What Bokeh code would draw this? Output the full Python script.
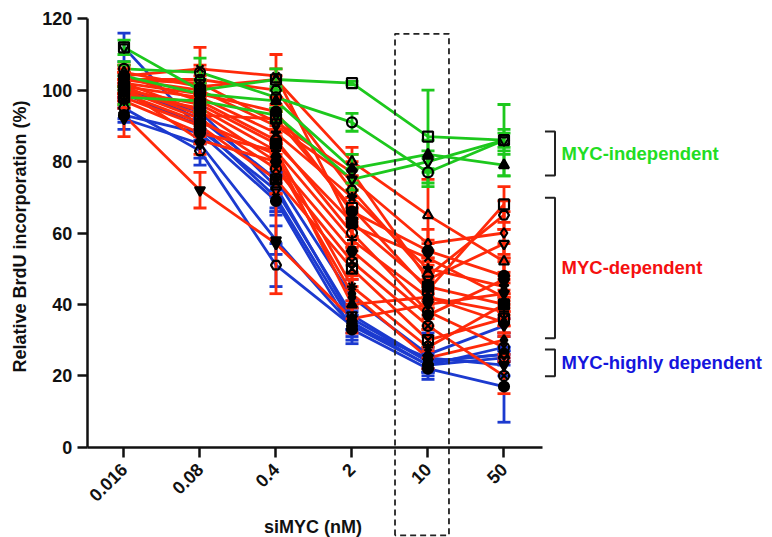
from math import pi
from bokeh.plotting import figure
from bokeh.models import Range1d, LinearAxis, FixedTicker, ColumnDataSource
from bokeh.core.properties import value
from bokeh.embed import file_html
from bokeh.resources import INLINE

# ---------------- data ----------------
doses = ["0.016", "0.08", "0.4", "2", "10", "50"]
y_ticks = [0, 20, 40, 60, 80, 100, 120]

green_means = [
    [112, 100, 103, 102, 87, 86],
    [106, 105, 98, 91, 77, 86],
    [104, 99, 97, 78, 82, 79],
    [98, 97, 93, 75, 80, 86],
]
green_sds = [
    [2, 3, 3, 0.5, 13, 10],
    [2, 4, 3, 2.5, 4, 3],
    [3, 3, 3, 4, 4, 3],
    [2, 3, 2, 3, 3, 2],
]

red_means = [
    [104, 106, 104, 62, 53, 42],
    [103, 103, 100, 72, 48, 65],
    [102, 99, 94, 66, 55, 48],
    [93, 72, 57, 36, 40, 43],
    [105, 101, 103, 80, 65, 52],
    [103, 100, 90, 75, 57, 60],
    [101, 98, 88, 70, 50, 45],
    [100, 96, 85, 63, 45, 40],
    [99, 95, 83, 58, 42, 38],
    [102, 94, 80, 55, 37, 47],
    [100, 92, 78, 52, 34, 20],
    [98, 90, 75, 50, 30, 36],
    [97, 88, 83, 45, 28, 40],
    [101, 93, 92, 67, 44, 68],
    [104, 97, 86, 60, 38, 28],
    [99, 91, 82, 40, 42, 35],
    [103, 102, 91, 77, 47, 57],
    [100, 86, 80, 43, 25, 30],
]
red_sds = [
    [3, 6, 6, 5, 4, 4],
    [2, 4, 4, 6, 5, 4],
    [3, 3, 4, 4, 3, 5],
    [6, 5, 14, 4, 4, 5],
    [2, 3, 3, 4, 10, 5],
    [3, 3, 4, 5, 4, 6],
    [2, 4, 3, 6, 5, 4],
    [3, 3, 4, 4, 4, 3],
    [2, 4, 3, 5, 3, 4],
    [3, 3, 5, 4, 4, 5],
    [2, 4, 4, 4, 5, 5],
    [3, 3, 4, 5, 3, 4],
    [2, 3, 4, 4, 3, 4],
    [3, 4, 3, 5, 4, 5],
    [2, 3, 5, 4, 4, 4],
    [3, 3, 4, 4, 5, 4],
    [2, 4, 3, 5, 4, 4],
    [3, 4, 5, 4, 3, 4],
]

blue_means = [
    [112, 89, 72, 37, 24, 26],
    [101, 92, 75, 42, 26, 34],
    [99, 90, 70, 35, 23, 28],
    [95, 83, 51, 34, 23, 25],
    [93, 88, 69, 33, 22, 17],
    [92, 85, 58, 34, 25, 23],
    [100, 94, 73, 36, 24, 26],
]
blue_sds = [
    [4, 3, 5, 4, 2, 2],
    [3, 3, 10, 5, 6, 2],
    [2, 2, 4, 3, 2, 3],
    [3, 4, 6, 3, 2, 2],
    [2, 3, 3, 3, 3, 10],
    [3, 4, 4, 5, 3, 3],
    [2, 3, 3, 3, 3, 2],
]

group_labels = ["MYC-independent", "MYC-dependent", "MYC-highly dependent"]
group_spans = [(88.4, 76.1), (69.9, 30.5), (27.4, 19.9)]
highlight_dose = "10"

# ---------------- style ----------------
FONT = "Liberation Sans"
GREEN, RED, BLUE = "#1DC81D", "#FF2A0A", "#1C3ACF"
TXT_COLORS = ["#22DD22", "#F51010", "#1515DD"]
MARKERS = [("square", False), ("circle", False), ("triangle", True),
           ("inverted_triangle", False), ("diamond", True), ("x", False),
           ("hex", False), ("circle", True), ("inverted_triangle", True),
           ("triangle", False), ("diamond", False), ("star", True),
           ("square", True), ("cross", False), ("hex", True),
           ("circle_x", False), ("square_x", False), ("asterisk", False)]

X0, X1 = -0.484, 5.507

p = figure(width=772, height=537, output_backend="svg", toolbar_location=None,
           x_range=Range1d(-1.625, 8.533), y_range=Range1d(-25.29, 125.126),
           x_axis_type=None, y_axis_type=None, min_border=0)
p.outline_line_color = None
p.background_fill_color = "white"
p.border_fill_color = "white"

xpos = list(range(len(doses)))

xaxis = LinearAxis(fixed_location=0, bounds=(X0, X1),
                   ticker=FixedTicker(ticks=xpos),
                   major_label_overrides={i: d for i, d in enumerate(doses)},
                   major_label_orientation=pi / 4)
yaxis = LinearAxis(fixed_location=X0, bounds=(0, 120),
                   ticker=FixedTicker(ticks=y_ticks))
for ax in (xaxis, yaxis):
    ax.axis_line_width = 2.5
    ax.axis_line_color = "#111111"
    ax.major_tick_line_width = 2.5
    ax.major_tick_line_color = "#111111"
    ax.major_tick_out = 10
    ax.major_tick_in = 0
    ax.minor_tick_out = 0
    ax.minor_tick_in = 0
    ax.major_label_text_font = FONT
    ax.major_label_text_font_style = "bold"
    ax.major_label_text_font_size = "18px"
    ax.major_label_text_color = "#111111"
xaxis.major_label_standoff = 9
yaxis.major_label_standoff = 5
p.add_layout(xaxis, "below")
p.add_layout(yaxis, "left")

def draw_lines(means, color):
    for m in means:
        p.line(xpos, m, line_color=color, line_width=2.8)

def draw_errors(means, sds, color):
    for m, s in zip(means, sds):
        lo = [a - b for a, b in zip(m, s)]
        hi = [a + b for a, b in zip(m, s)]
        src = ColumnDataSource(dict(x=xpos, lo=lo, hi=hi))
        p.segment(x0="x", y0="lo", x1="x", y1="hi", source=src,
                  line_color=color, line_width=2.8)
        p.scatter("x", "lo", source=src, marker="dash", size=13,
                  line_color=color, line_width=2.8)
        p.scatter("x", "hi", source=src, marker="dash", size=13,
                  line_color=color, line_width=2.8)

def draw_markers(means, offset):
    for k, m in enumerate(means):
        mk, filled = MARKERS[(k + offset) % len(MARKERS)]
        p.scatter(xpos, m, marker=mk, size=10, line_color="#000000",
                  line_width=2.2, fill_color="#000000" if filled else None)

groups = [(blue_means, blue_sds, BLUE, 3), (red_means, red_sds, RED, 5),
          (green_means, green_sds, GREEN, 0)]
for means, sds, color, off in groups:
    draw_lines(means, color)
for means, sds, color, off in groups:
    draw_errors(means, sds, color)
for means, sds, color, off in groups:
    draw_markers(means, off)

# dashed highlight box around the 10 nM column
hx = doses.index(highlight_dose)
p.line([hx - 0.434, hx - 0.434, hx + 0.276, hx + 0.276, hx - 0.434],
       [-24.7, 115.8, 115.8, -24.7, -24.7],
       line_color="#222222", line_width=1.8, line_dash="6 4")

# group brackets and labels
bx_in, bx_out = 5.539, 5.671
for top, bot in group_spans:
    p.line([bx_in, bx_out, bx_out, bx_in], [top, top, bot, bot],
           line_color="#222222", line_width=2)
lab_src = ColumnDataSource(dict(
    x=[5.757] * 3, y=[(a + b) / 2 for a, b in group_spans],
    text=group_labels, color=TXT_COLORS))
p.text(x="x", y="y", text="text", source=lab_src, text_color="color",
       text_font=value(FONT), text_font_style="bold", text_font_size="18.5px",
       text_baseline="middle", text_align="left")

# axis titles
p.text(x=[2.487], y=[-22.3], text=["siMYC (nM)"], text_font=value(FONT),
       text_font_style="bold", text_font_size="18px", text_color="#111111",
       text_align="center", text_baseline="alphabetic")
p.text(x=[-1.362], y=[59], text=["Relative BrdU incorporation (%)"],
       angle=pi / 2, text_font=value(FONT), text_font_style="bold",
       text_font_size="18px", text_color="#111111",
       text_align="center", text_baseline="middle")

open("out.html", "w").write(file_html(p, INLINE))
